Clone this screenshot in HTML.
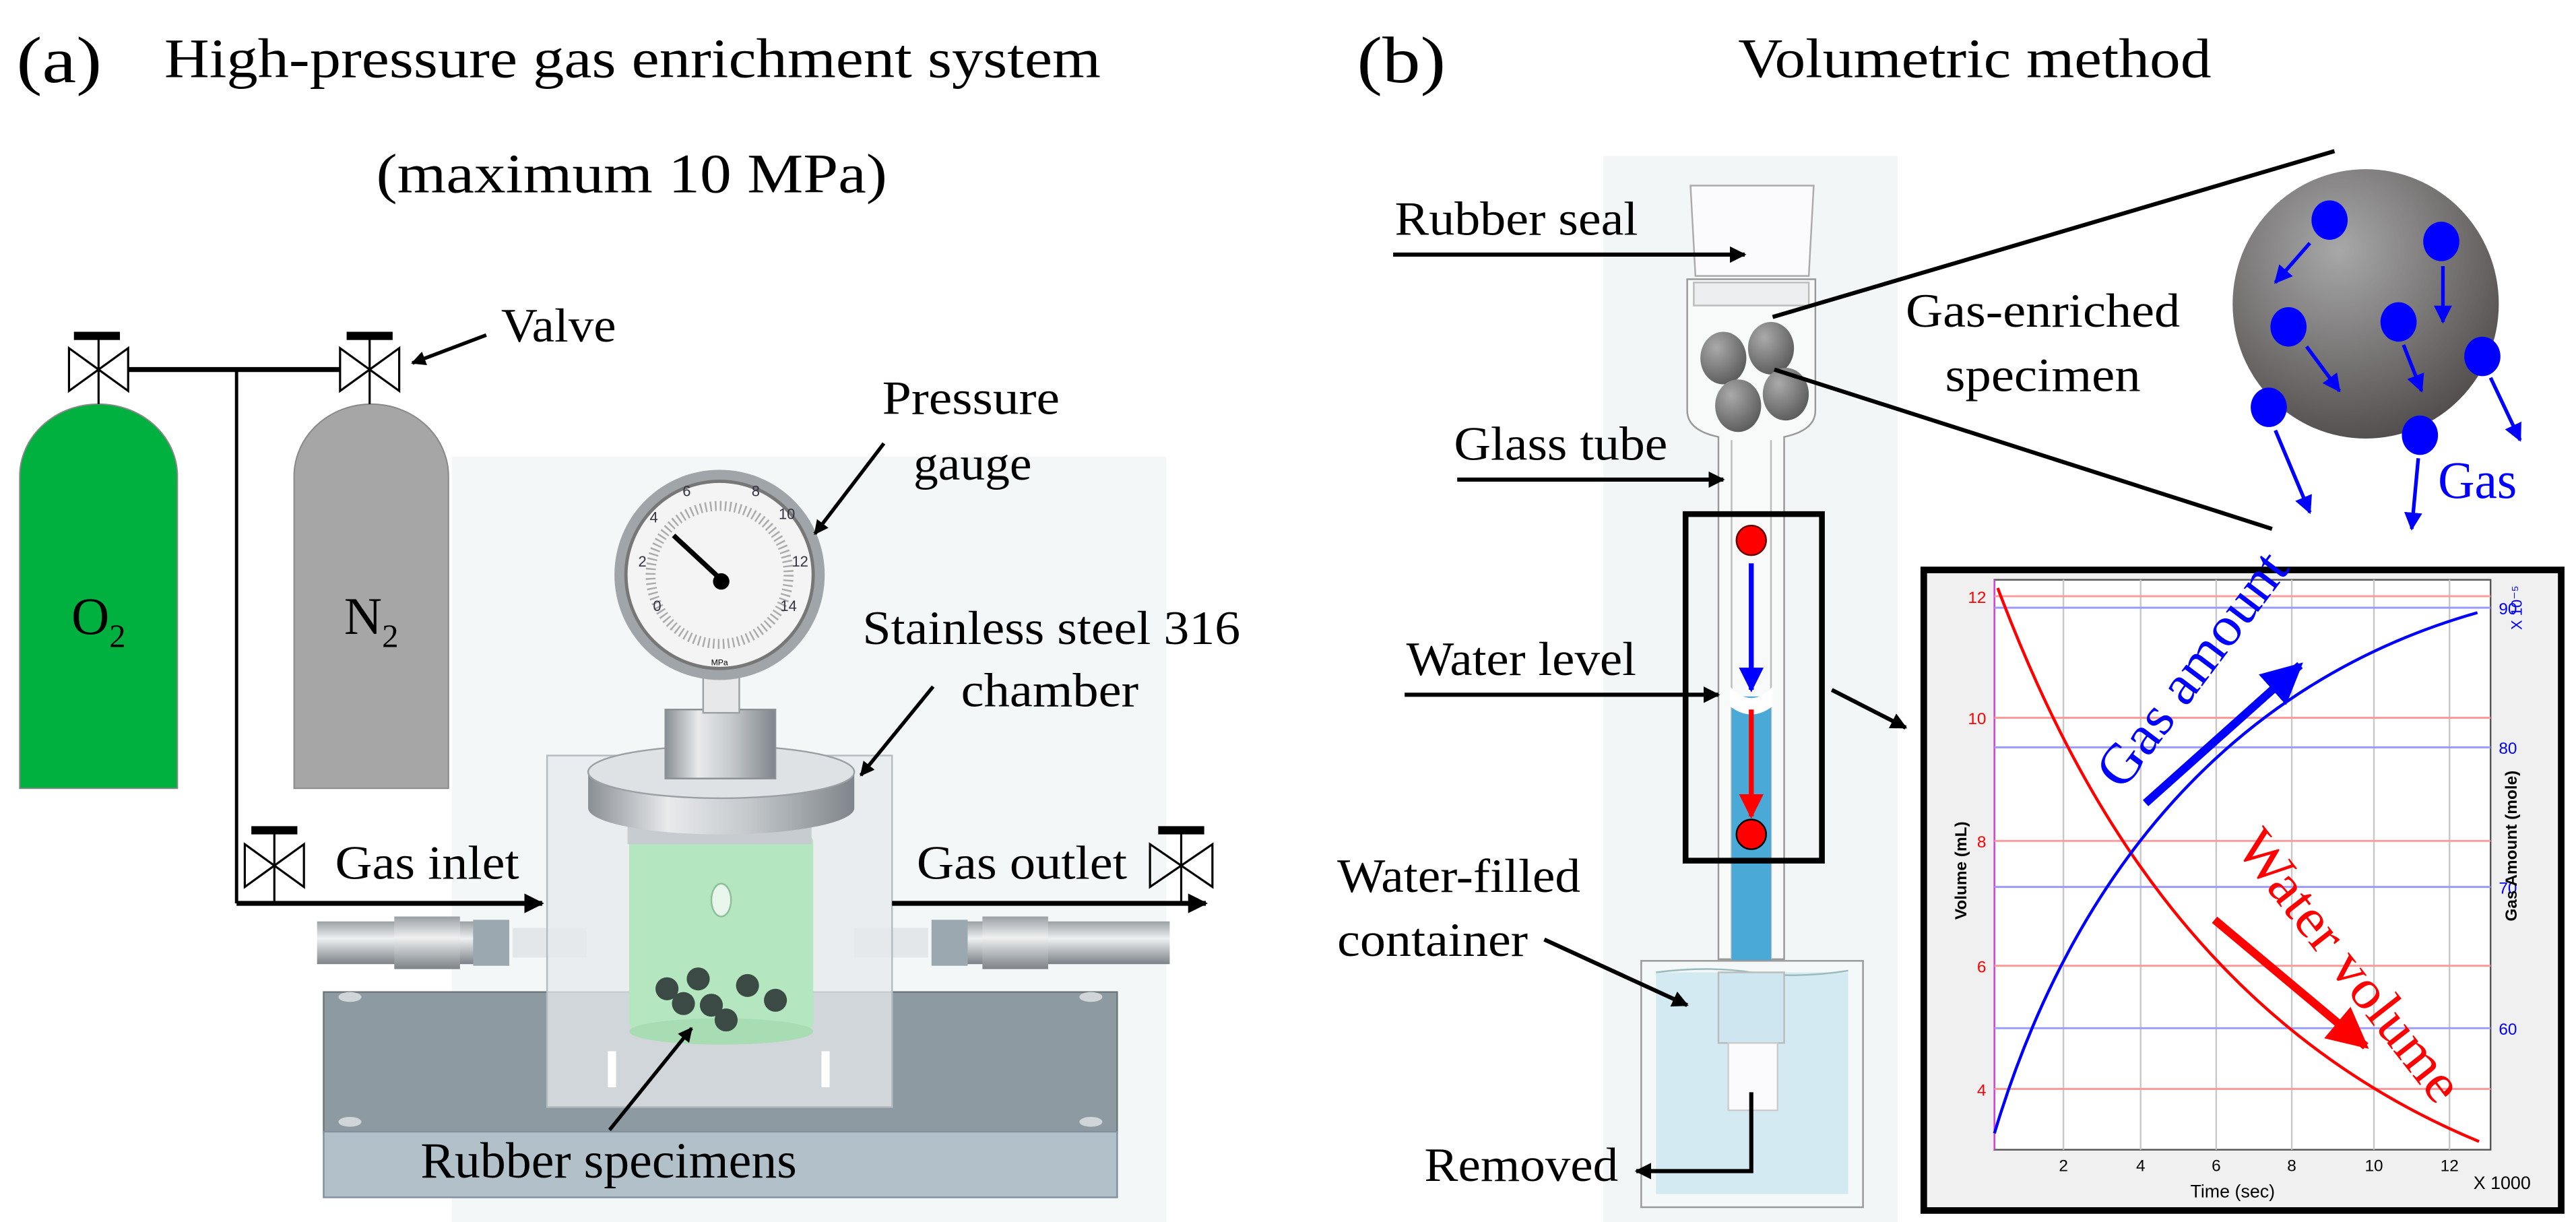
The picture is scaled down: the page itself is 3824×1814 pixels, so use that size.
<!DOCTYPE html>
<html><head><meta charset="utf-8"><style>html,body{margin:0;padding:0;background:#fff}svg{display:block}</style></head><body>
<svg width="3824" height="1814" viewBox="0 0 1568 744" preserveAspectRatio="none" xmlns="http://www.w3.org/2000/svg" font-family="'Liberation Serif', serif">
<defs>
<marker id="ah" viewBox="0 0 10 10" refX="9" refY="5" markerWidth="4" markerHeight="4" orient="auto"><path d="M0,0L10,5L0,10z" fill="#000"/></marker>
<marker id="ahb" viewBox="0 0 10 10" refX="9" refY="5" markerWidth="5" markerHeight="5" orient="auto"><path d="M0,0L10,5L0,10z" fill="#0000ff"/></marker>
<marker id="ahr" viewBox="0 0 10 10" refX="9" refY="5" markerWidth="5" markerHeight="5" orient="auto"><path d="M0,0L10,5L0,10z" fill="#ff0000"/></marker>
<radialGradient id="sph" cx="0.4" cy="0.3" r="0.8"><stop offset="0" stop-color="#a8a8a8"/><stop offset="1" stop-color="#4a4444"/></radialGradient>
<radialGradient id="ball" cx="0.35" cy="0.3" r="0.8"><stop offset="0" stop-color="#aaa"/><stop offset="1" stop-color="#555"/></radialGradient>
<linearGradient id="silver" x1="0" x2="1"><stop offset="0" stop-color="#8a8f94"/><stop offset="0.3" stop-color="#e8eaec"/><stop offset="0.6" stop-color="#c5c9cc"/><stop offset="1" stop-color="#7f858a"/></linearGradient>
<linearGradient id="pipe" x1="0" y1="0" x2="0" y2="1"><stop offset="0" stop-color="#9aa0a4"/><stop offset="0.4" stop-color="#eef0f1"/><stop offset="1" stop-color="#7c8287"/></linearGradient>
</defs>

<!-- Panel a titles -->
<text x="10" y="50" font-size="40" textLength="52" lengthAdjust="spacingAndGlyphs">(a)</text>
<text x="100" y="47" font-size="34" textLength="570" lengthAdjust="spacingAndGlyphs">High-pressure gas enrichment system</text>
<text x="229" y="117" font-size="34" textLength="311" lengthAdjust="spacingAndGlyphs">(maximum 10 MPa)</text>

<!-- backdrop -->
<rect x="275" y="278" width="435" height="466" fill="#f4f7f7"/>

<!-- cylinders -->
<path d="M12,480 L12,290 A48,44 0 0 1 108,290 L108,480 Z" fill="#00b140" stroke="#888" stroke-width="0.8"/>
<path d="M179,480 L179,290 A47,44 0 0 1 273,290 L273,480 Z" fill="#a6a6a6" stroke="#888" stroke-width="0.8"/>
<text x="60" y="386" font-size="32" text-anchor="middle">O<tspan font-size="20" dy="8">2</tspan></text>
<text x="226" y="386" font-size="32" text-anchor="middle">N<tspan font-size="20" dy="8">2</tspan></text>

<!-- valves top -->
<g stroke="#000" stroke-width="1.3" fill="none">
<path d="M42,212 L78,238 L78,212 L42,238 Z"/><line x1="60" y1="205" x2="60" y2="246"/>
<path d="M207,212 L243,238 L243,212 L207,238 Z"/><line x1="225" y1="205" x2="225" y2="246"/>
</g>
<rect x="45" y="202" width="28" height="5" fill="#000"/>
<rect x="211" y="202" width="28" height="5" fill="#000"/>
<line x1="78" y1="225" x2="207" y2="225" stroke="#000" stroke-width="3"/>
<line x1="144" y1="225" x2="144" y2="550" stroke="#000" stroke-width="2"/>
<line x1="144" y1="550" x2="330" y2="550" stroke="#000" stroke-width="3" marker-end="url(#ah)"/>
<text x="305" y="208" font-size="29" textLength="70" lengthAdjust="spacingAndGlyphs">Valve</text>
<line x1="296" y1="204" x2="251" y2="221" stroke="#000" stroke-width="2.2" marker-end="url(#ah)"/>

<!-- base plate -->
<rect x="197" y="604" width="483" height="86" fill="#8e9aa1" stroke="#6d777c"/>
<rect x="197" y="689" width="483" height="40" fill="#b2c0c9" stroke="#8290a0"/>
<ellipse cx="213" cy="607" rx="7" ry="3" fill="#cfd5d8"/><ellipse cx="664" cy="607" rx="7" ry="3" fill="#cfd5d8"/>
<ellipse cx="213" cy="683" rx="7" ry="3" fill="#cfd5d8"/><ellipse cx="664" cy="683" rx="7" ry="3" fill="#cfd5d8"/>

<!-- pipes -->
<rect x="193" y="561" width="100" height="26" fill="url(#pipe)"/>
<rect x="240" y="558" width="40" height="32" fill="url(#pipe)"/>
<rect x="288" y="560" width="22" height="28" fill="#9ca8b0"/>
<rect x="312" y="565" width="45" height="18" fill="#e4e7e9"/>
<rect x="585" y="561" width="127" height="26" fill="url(#pipe)"/>
<rect x="598" y="558" width="40" height="32" fill="url(#pipe)"/>
<rect x="567" y="560" width="22" height="28" fill="#9ca8b0"/>
<rect x="520" y="565" width="45" height="18" fill="#e4e7e9"/>

<!-- chamber -->
<rect x="333" y="460" width="210" height="214" fill="#e6eaec" fill-opacity="0.75" stroke="#b5bcc0"/>
<rect x="383" y="507" width="112" height="121" rx="6" fill="#b4e6bf"/>
<ellipse cx="439" cy="628" rx="56" ry="8" fill="#a8dcb3"/>
<ellipse cx="439" cy="548" rx="6" ry="10" fill="#e8f5ea" stroke="#8fbf98"/>
<rect x="370" y="640" width="5" height="22" fill="#fff"/><rect x="500" y="640" width="5" height="22" fill="#fff"/>
<g fill="#3b4a44"><circle cx="406" cy="602" r="7"/><circle cx="416" cy="611" r="7"/><circle cx="425" cy="596" r="7"/><circle cx="433" cy="612" r="7"/><circle cx="442" cy="621" r="7"/><circle cx="455" cy="600" r="7"/><circle cx="472" cy="609" r="7"/></g>
<!-- lid -->
<rect x="382" y="500" width="112" height="14" fill="#c7ccd0"/>
<path d="M358,470 L358,492 A81,16 0 0 0 520,492 L520,470 Z" fill="url(#silver)"/>
<ellipse cx="439" cy="470" rx="81" ry="16" fill="#dfe2e4" stroke="#9aa0a4"/>
<rect x="405" y="432" width="67" height="42" fill="url(#silver)" stroke="#8a9094"/>
<rect x="428" y="410" width="22" height="24" fill="#e6e8ea" stroke="#9aa0a4"/>

<!-- gauge -->
<circle cx="438" cy="350" r="64" fill="#9fa5a9"/>
<circle cx="438" cy="350" r="57" fill="#f4f4f4" stroke="#777" stroke-width="2"/>
<circle cx="438" cy="350" r="42" fill="none" stroke="#aaa" stroke-width="6" stroke-dasharray="1 2"/>
<g font-family="'Liberation Sans',sans-serif" font-size="9" fill="#334" text-anchor="middle">
<text x="400" y="372">0</text><text x="391" y="345">2</text><text x="398" y="318">4</text><text x="418" y="302">6</text><text x="460" y="302">8</text><text x="479" y="316">10</text><text x="487" y="345">12</text><text x="480" y="372">14</text></g>
<text x="438" y="405" font-family="'Liberation Sans',sans-serif" font-size="5" text-anchor="middle">MPa</text>
<line x1="410" y1="326" x2="438" y2="352" stroke="#000" stroke-width="3"/><circle cx="439" cy="354" r="5" fill="#000"/>
<text x="537" y="252" font-size="29" textLength="108" lengthAdjust="spacingAndGlyphs">Pressure</text>
<text x="556" y="292" font-size="29" textLength="72" lengthAdjust="spacingAndGlyphs">gauge</text>
<line x1="538" y1="270" x2="496" y2="325" stroke="#000" stroke-width="2.2" marker-end="url(#ah)"/>
<text x="525" y="392" font-size="29" textLength="230" lengthAdjust="spacingAndGlyphs">Stainless steel 316</text>
<text x="585" y="430" font-size="29" textLength="108" lengthAdjust="spacingAndGlyphs">chamber</text>
<line x1="568" y1="418" x2="524" y2="472" stroke="#000" stroke-width="2.2" marker-end="url(#ah)"/>

<!-- inlet / outlet -->
<g stroke="#000" stroke-width="1.3" fill="none">
<path d="M149,514 L185,540 L185,514 L149,540 Z"/><line x1="167" y1="506" x2="167" y2="550"/>
<path d="M700,514 L738,540 L738,514 L700,540 Z"/><line x1="719" y1="506" x2="719" y2="550"/>
</g>
<rect x="153" y="503" width="28" height="5" fill="#000"/><rect x="705" y="503" width="28" height="5" fill="#000"/>
<line x1="543" y1="550" x2="734" y2="550" stroke="#000" stroke-width="3" marker-end="url(#ah)"/>
<text x="204" y="535" font-size="29" textLength="112" lengthAdjust="spacingAndGlyphs">Gas inlet</text>
<text x="558" y="535" font-size="29" textLength="128" lengthAdjust="spacingAndGlyphs">Gas outlet</text>
<text x="256" y="717" font-size="31" textLength="229" lengthAdjust="spacingAndGlyphs">Rubber specimens</text>
<line x1="371" y1="688" x2="421" y2="626" stroke="#000" stroke-width="2.2" marker-end="url(#ah)"/>

<!-- Panel b -->
<text x="826" y="50" font-size="40" textLength="54" lengthAdjust="spacingAndGlyphs">(b)</text>
<text x="1058" y="47" font-size="34" textLength="288" lengthAdjust="spacingAndGlyphs">Volumetric method</text>
<rect x="976" y="95" width="179" height="649" fill="#f2f6f6"/>

<!-- stopper & bulb -->
<path d="M1029,113 L1104,113 L1101,168 L1032,168 Z" fill="#fbfbfd" stroke="#aaa"/>
<path d="M1027,170 L1105,170 L1105,250 Q1105,262 1086,266 L1086,584 L1046,584 L1046,266 Q1027,262 1027,250 Z" fill="#f8f9fa" fill-opacity="0.9" stroke="#999"/>
<line x1="1054" y1="268" x2="1054" y2="584" stroke="#bbb"/><line x1="1078" y1="268" x2="1078" y2="584" stroke="#bbb"/>
<rect x="1031" y="172" width="70" height="14" fill="#eceef0" stroke="#bbb"/>
<ellipse cx="1049" cy="218" rx="14" ry="16" fill="url(#ball)"/>
<ellipse cx="1078" cy="212" rx="14" ry="16" fill="url(#ball)"/>
<ellipse cx="1058" cy="247" rx="14" ry="16" fill="url(#ball)"/>
<ellipse cx="1087" cy="240" rx="14" ry="16" fill="url(#ball)"/>
<!-- water column -->
<rect x="1054" y="424" width="24" height="211" fill="#4aa9d6"/>
<path d="M1053,418 Q1066,432 1079,418 L1079,430 Q1066,440 1053,430 Z" fill="#fff"/>

<!-- zoom lines -->
<line x1="1079" y1="193" x2="1421" y2="92" stroke="#000" stroke-width="2.5"/>
<line x1="1080" y1="225" x2="1383" y2="322" stroke="#000" stroke-width="2.5"/>

<text x="849" y="143" font-size="29" textLength="148" lengthAdjust="spacingAndGlyphs">Rubber seal</text>
<line x1="848" y1="155" x2="1062" y2="155" stroke="#000" stroke-width="2.5" marker-end="url(#ah)"/>
<text x="885" y="280" font-size="29" textLength="130" lengthAdjust="spacingAndGlyphs">Glass tube</text>
<line x1="887" y1="292" x2="1049" y2="292" stroke="#000" stroke-width="2.5" marker-end="url(#ah)"/>
<text x="1160" y="199" font-size="29" textLength="167" lengthAdjust="spacingAndGlyphs">Gas-enriched</text>
<text x="1184" y="238" font-size="29" textLength="119" lengthAdjust="spacingAndGlyphs">specimen</text>

<!-- sphere -->
<ellipse cx="1440" cy="185" rx="81" ry="82" fill="url(#sph)"/>
<g fill="#0000ff"><ellipse cx="1418" cy="134" rx="11" ry="12"/><ellipse cx="1486" cy="147" rx="11" ry="12"/><ellipse cx="1393" cy="199" rx="11" ry="12"/><ellipse cx="1460" cy="196" rx="11" ry="12"/><ellipse cx="1511" cy="217" rx="11" ry="12"/><ellipse cx="1381" cy="248" rx="11" ry="12"/><ellipse cx="1473" cy="265" rx="11" ry="12"/></g>
<g stroke="#0000ff" stroke-width="2.2" marker-end="url(#ahb)">
<line x1="1406" y1="148" x2="1385" y2="172"/><line x1="1487" y1="162" x2="1487" y2="196"/>
<line x1="1404" y1="211" x2="1424" y2="238"/><line x1="1463" y1="210" x2="1474" y2="238"/>
<line x1="1516" y1="230" x2="1534" y2="268"/><line x1="1385" y1="262" x2="1406" y2="312"/>
<line x1="1472" y1="279" x2="1468" y2="322"/></g>
<text x="1484" y="303" font-size="32" fill="#0000ff" textLength="48" lengthAdjust="spacingAndGlyphs">Gas</text>

<!-- tube box -->
<rect x="1026" y="313" width="83" height="211" fill="none" stroke="#000" stroke-width="3.5"/>
<circle cx="1066" cy="329" r="9" fill="#ff0000" stroke="#600"/>
<line x1="1066" y1="343" x2="1066" y2="420" stroke="#0000ff" stroke-width="3" marker-end="url(#ahb)"/>
<line x1="1066" y1="432" x2="1066" y2="497" stroke="#ff0000" stroke-width="3" marker-end="url(#ahr)"/>
<circle cx="1066" cy="508" r="9" fill="#ff0000" stroke="#000"/>
<text x="856" y="411" font-size="29" textLength="140" lengthAdjust="spacingAndGlyphs">Water level</text>
<line x1="855" y1="423" x2="1046" y2="423" stroke="#000" stroke-width="2.5" marker-end="url(#ah)"/>
<line x1="1115" y1="420" x2="1160" y2="443" stroke="#000" stroke-width="2.5" marker-end="url(#ah)"/>

<!-- container -->
<rect x="999" y="585" width="135" height="150" fill="#f4f8f9" stroke="#999"/>
<rect x="1008" y="592" width="117" height="135" fill="#d3eaf2"/>
<path d="M1008,592 Q1040,588 1066,592 T1125,591" stroke="#9bb" fill="none"/>
<rect x="1046" y="592" width="40" height="43" fill="#cde6ef" stroke="#bbb"/>
<rect x="1052" y="635" width="30" height="41" fill="#fbfbfd" stroke="#ccc"/>
<text x="814" y="543" font-size="29" textLength="148" lengthAdjust="spacingAndGlyphs">Water-filled</text>
<text x="814" y="582" font-size="29" textLength="116" lengthAdjust="spacingAndGlyphs">container</text>
<line x1="940" y1="572" x2="1027" y2="612" stroke="#000" stroke-width="2.5" marker-end="url(#ah)"/>
<polyline points="1066,665 1066,713 996,713" fill="none" stroke="#000" stroke-width="2.5" marker-end="url(#ah)"/>
<text x="867" y="719" font-size="29" textLength="118" lengthAdjust="spacingAndGlyphs">Removed</text>

<!-- chart -->
<rect x="1171" y="347" width="388" height="390" fill="#f0f0f0" stroke="#000" stroke-width="4"/>
<rect x="1214" y="353" width="302" height="347" fill="#fff" stroke="#555" stroke-width="1"/>
<line x1="1214" y1="353" x2="1214" y2="700" stroke="#e040e0" stroke-width="1"/>
<g stroke="#c8c8c8" stroke-width="1"><line x1="1256" y1="353" x2="1256" y2="700"/><line x1="1303" y1="353" x2="1303" y2="700"/><line x1="1349" y1="353" x2="1349" y2="700"/><line x1="1395" y1="353" x2="1395" y2="700"/><line x1="1445" y1="353" x2="1445" y2="700"/><line x1="1491" y1="353" x2="1491" y2="700"/></g>
<g stroke="#ff9a9a" stroke-width="1.2"><line x1="1214" y1="363" x2="1516" y2="363"/><line x1="1214" y1="437" x2="1516" y2="437"/><line x1="1214" y1="512" x2="1516" y2="512"/><line x1="1214" y1="588" x2="1516" y2="588"/><line x1="1214" y1="663" x2="1516" y2="663"/></g>
<g stroke="#9a9aff" stroke-width="1.2"><line x1="1214" y1="370" x2="1516" y2="370"/><line x1="1214" y1="455" x2="1516" y2="455"/><line x1="1214" y1="540" x2="1516" y2="540"/><line x1="1214" y1="626" x2="1516" y2="626"/></g>
<g font-family="'Liberation Sans',sans-serif" font-size="10">
<g fill="#ff0000" text-anchor="end"><text x="1209" y="367">12</text><text x="1209" y="441">10</text><text x="1209" y="516">8</text><text x="1209" y="592">6</text><text x="1209" y="667">4</text></g>
<g fill="#0000ff"><text x="1521" y="374">90</text><text x="1521" y="459">80</text><text x="1521" y="544">70</text><text x="1521" y="630">60</text></g>
<g fill="#000" text-anchor="middle"><text x="1256" y="713">2</text><text x="1303" y="713">4</text><text x="1349" y="713">6</text><text x="1395" y="713">8</text><text x="1445" y="713">10</text><text x="1491" y="713">12</text></g>
<text x="1359" y="729" text-anchor="middle" font-size="11">Time (sec)</text>
<text x="1523" y="724" text-anchor="middle" font-size="11">X 1000</text>
<text transform="translate(1197,530) rotate(-90)" text-anchor="middle" font-size="10" font-weight="bold">Volume (mL)</text>
<text transform="translate(1532,515) rotate(-90)" text-anchor="middle" font-size="10" font-weight="bold">Gas Amount (mole)</text>
<text transform="translate(1535,370) rotate(-90)" text-anchor="middle" font-size="9" fill="#0000ff">X 10⁻⁵</text>
</g>
<path d="M1216,358 C1262,480 1340,625 1509,695" fill="none" stroke="#ff0000" stroke-width="1.8"/>
<path d="M1214,690 C1262,530 1360,415 1508,373" fill="none" stroke="#0000ff" stroke-width="1.8"/>
<text transform="translate(1292,482) rotate(-53)" font-size="34" fill="#0000ff" textLength="170" lengthAdjust="spacingAndGlyphs">Gas amount</text>
<line x1="1306" y1="489" x2="1400" y2="405" stroke="#0000ff" stroke-width="5" marker-end="url(#ahb)"/>
<text transform="translate(1360,516) rotate(52)" font-size="34" fill="#ff0000" textLength="200" lengthAdjust="spacingAndGlyphs">Water volume</text>
<line x1="1348" y1="560" x2="1440" y2="637" stroke="#ff0000" stroke-width="5" marker-end="url(#ahr)"/>
</svg>
</body></html>
